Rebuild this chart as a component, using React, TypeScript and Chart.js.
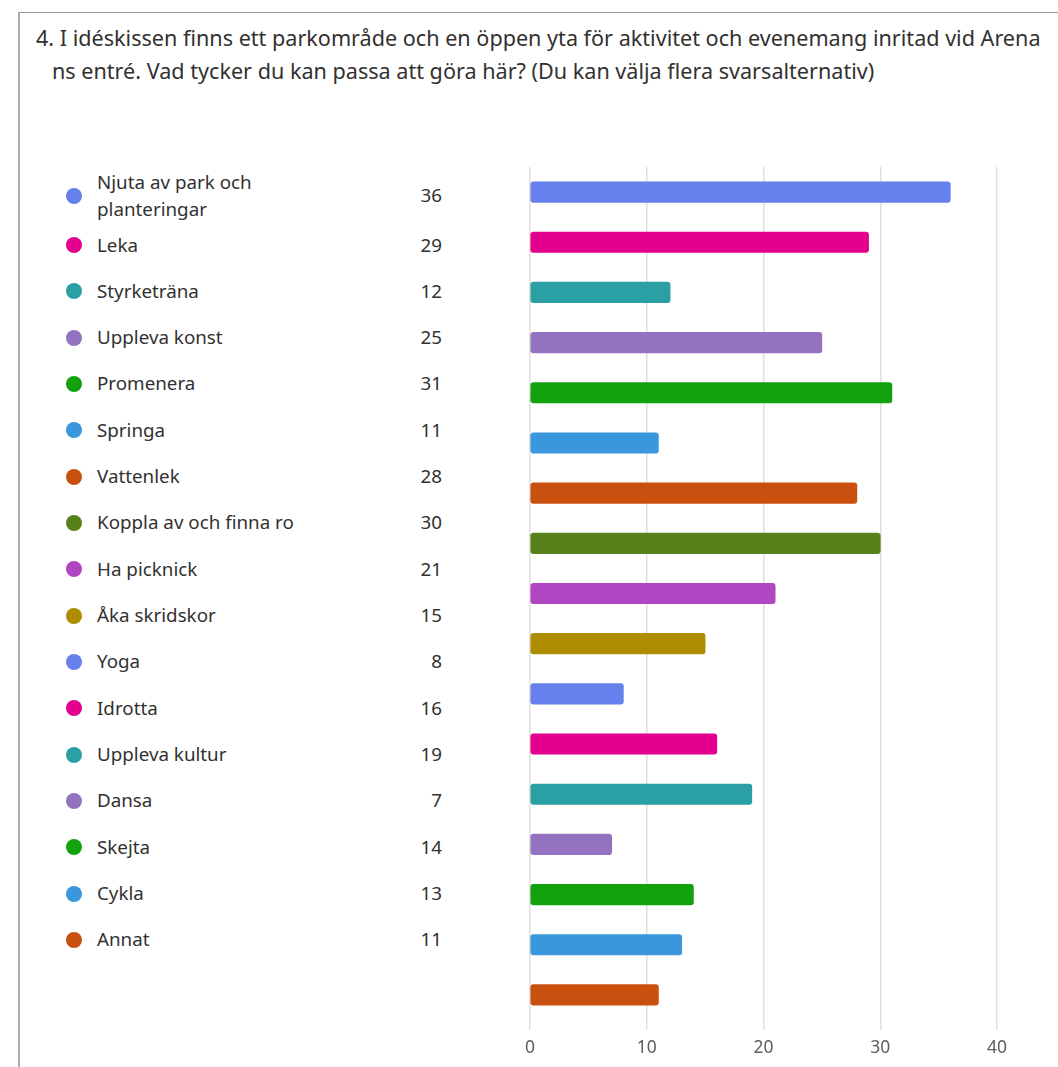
import React, { useEffect, useRef } from "react";
import { Chart, registerables } from "chart.js";

Chart.register(...registerables);

const titleLine1 = "4. I idéskissen finns ett parkområde och en öppen yta för aktivitet och evenemang inritad vid Arena";
const titleLine2 = "ns entré. Vad tycker du kan passa att göra här? (Du kan välja flera svarsalternativ)";

const categories = [
  "Njuta av park och planteringar",
  "Leka",
  "Styrketräna",
  "Uppleva konst",
  "Promenera",
  "Springa",
  "Vattenlek",
  "Koppla av och finna ro",
  "Ha picknick",
  "Åka skridskor",
  "Yoga",
  "Idrotta",
  "Uppleva kultur",
  "Dansa",
  "Skejta",
  "Cykla",
  "Annat",
];

const counts = [36, 29, 12, 25, 31, 11, 28, 30, 21, 15, 8, 16, 19, 7, 14, 13, 11];

const palette = [
  "#6680ec",
  "#e3008c",
  "#2aa0a4",
  "#9373c0",
  "#13a10e",
  "#3a96dd",
  "#ca5010",
  "#57811b",
  "#b146c2",
  "#ae8c00",
];

const xTicks = [0, 10, 20, 30, 40];

const FONT = "'Noto Sans', 'Open Sans', sans-serif";
const TEXT = "#323130";

function BarChart() {
  const ref = useRef<HTMLCanvasElement | null>(null);
  useEffect(() => {
    if (!ref.current) return;
    const colors = categories.map((_, i) => palette[i % palette.length]);
    const chart = new Chart(ref.current, {
      type: "bar",
      data: {
        labels: categories,
        datasets: [
          {
            data: counts,
            backgroundColor: colors,
            borderWidth: 0,
            borderRadius: 3,
            borderSkipped: false,
            barThickness: 20.5,
          },
        ],
      },
      options: {
        indexAxis: "y",
        animation: false,
        responsive: false,
        maintainAspectRatio: false,
        layout: { padding: { left: 50, right: 61, top: 17, bottom: 0 } },
        plugins: { legend: { display: false }, tooltip: { enabled: false } },
        scales: {
          y: { display: false },
          x: {
            min: xTicks[0],
            max: xTicks[xTicks.length - 1],
            afterBuildTicks: (axis: any) => {
              axis.ticks = xTicks.map((v) => ({ value: v }));
            },
            grid: {
              color: "#e1dfdd",
              lineWidth: 1.5,
              tickLength: 10,
              tickColor: "#e1dfdd",
            },
            border: { display: false },
            ticks: {
              color: "#605e5c",
              font: { family: "'Noto Sans', sans-serif", size: 17.5 },
              padding: 8,
            },
          },
        },
      },
    });
    return () => chart.destroy();
  }, []);
  return (
    <canvas
      ref={ref}
      width={578}
      height={917}
      style={{ position: "absolute", left: 480, top: 150, width: 578, height: 917 }}
    />
  );
}

export default function App() {
  const rowCenter = (i: number) => (i === 0 ? 195.5 : 245 + (i - 1) * 46.33);
  return (
    <div
      style={{
        position: "fixed",
        left: 0,
        top: 0,
        width: 1058,
        height: 1067,
        overflow: "hidden",
        background: "#fff",
        fontFamily: FONT,
      }}
    >
      <div
        style={{
          position: "absolute",
          left: 18,
          top: 12,
          width: 1200,
          height: 1200,
          borderLeft: "2px solid #adadad",
          borderTop: "1px solid #9a9a9a",
        }}
      />
      <div
        style={{
          position: "absolute",
          left: 36,
          top: 21,
          fontSize: 21.6,
          lineHeight: "33px",
          color: TEXT,
          whiteSpace: "nowrap",
        }}
      >
        {titleLine1}
      </div>
      <div
        style={{
          position: "absolute",
          left: 52,
          top: 54,
          fontSize: 21.6,
          lineHeight: "33px",
          color: TEXT,
          whiteSpace: "nowrap",
        }}
      >
        {titleLine2}
      </div>
      {categories.map((c, i) => (
        <div
          key={c}
          style={{
            position: "absolute",
            left: 0,
            top: rowCenter(i) - 30,
            height: 60,
            width: 460,
            display: "flex",
            alignItems: "center",
          }}
        >
          <span
            style={{
              position: "absolute",
              left: 66,
              top: 22,
              width: 16,
              height: 16,
              borderRadius: 8,
              background: palette[i % palette.length],
            }}
          />
          <span
            style={{
              position: "absolute",
              left: 97,
              width: 225,
              fontSize: 18.8,
              lineHeight: "27px",
              color: TEXT,
            }}
          >
            {c}
          </span>
          <span
            style={{
              position: "absolute",
              right: 460 - 442,
              fontSize: 18.8,
              lineHeight: "27px",
              color: TEXT,
            }}
          >
            {counts[i]}
          </span>
        </div>
      ))}
      <BarChart />
    </div>
  );
}
